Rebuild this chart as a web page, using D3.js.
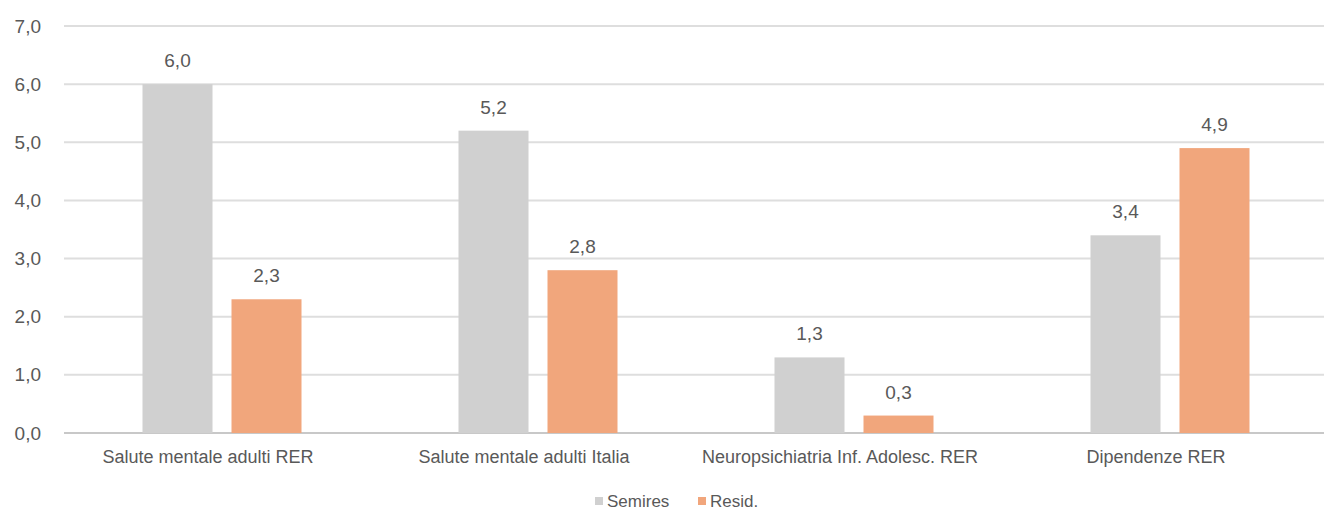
<!DOCTYPE html>
<html>
<head>
<meta charset="utf-8">
<script src="https://cdn.jsdelivr.net/npm/d3@7"></script>
<style>
  html, body { margin: 0; padding: 0; background: #fff; }
  svg { display: block; font-family: "Liberation Sans", Arial, sans-serif; }
</style>
</head>
<body>
<svg id="chart" width="1324" height="513"></svg>
<script>
const categories = ["Salute mentale adulti RER", "Salute mentale adulti Italia", "Neuropsichiatria Inf. Adolesc. RER", "Dipendenze RER"];
const seriesNames = ["Semires", "Resid."];
const semiresValues = [6.0, 5.2, 1.3, 3.4];
const residValues = [2.3, 2.8, 0.3, 4.9];
const yTicks = [0, 1, 2, 3, 4, 5, 6, 7];
const colors = ["#d0d0d0", "#f1a67c"];

const svg = d3.select("#chart");
const plotLeft = 64, plotRight = 1328, plotTop = 26, plotBottom = 433;
const fmt = v => d3.format(".1f")(v).replace(".", ",");

const x0 = d3.scaleBand().domain(categories).range([plotLeft, plotRight]).paddingInner(0).paddingOuter(0);
const x1 = d3.scaleBand().domain(seriesNames).range([0, x0.bandwidth()]).paddingInner(0.2135).paddingOuter(0.882);
const y = d3.scaleLinear().domain([0, 7]).range([plotBottom, plotTop]);

// gridlines
const grid = svg.append("g");
grid.selectAll("line").data(yTicks).join("line")
  .attr("x1", plotLeft).attr("x2", 1324)
  .attr("y1", d => y(d)).attr("y2", d => y(d))
  .attr("stroke", d => d === 0 ? "#c8c8c8" : "#dedede")
  .attr("stroke-width", 2);

// y axis labels
const yAxis = d3.axisLeft(y).tickValues(yTicks).tickFormat(fmt).tickSize(0).tickPadding(0);
const ya = svg.append("g").attr("transform", `translate(41,0)`).call(yAxis);
ya.select(".domain").remove();
ya.selectAll("text").attr("fill", "#595959").attr("font-size", 19).attr("font-family", null);

const data = categories.map((c, i) => ({ cat: c, vals: [semiresValues[i], residValues[i]] }));

const groups = svg.append("g").selectAll("g").data(data).join("g")
  .attr("transform", d => `translate(${x0(d.cat)},0)`);

groups.selectAll("rect").data(d => d.vals.map((v, j) => ({ s: seriesNames[j], v, j })))
  .join("rect")
  .attr("x", d => x1(d.s))
  .attr("width", x1.bandwidth())
  .attr("y", d => y(d.v))
  .attr("height", d => y(0) - y(d.v))
  .attr("fill", d => colors[d.j]);

groups.selectAll("text.val").data(d => d.vals.map((v, j) => ({ s: seriesNames[j], v, j })))
  .join("text")
  .attr("class", "val")
  .attr("x", d => x1(d.s) + x1.bandwidth() / 2)
  .attr("y", d => y(d.v) - 17)
  .attr("text-anchor", "middle")
  .attr("fill", "#595959")
  .attr("font-size", 19)
  .text(d => fmt(d.v));

// category labels
const xAxis = d3.axisBottom(x0).tickSize(0).tickPadding(0);
const xa = svg.append("g").attr("transform", `translate(-14,${plotBottom})`).call(xAxis);
xa.select(".domain").remove();
xa.selectAll("text").attr("fill", "#595959").attr("font-size", 18).attr("font-family", null)
  .attr("dy", null).attr("y", 30);

// legend
const legendItems = [
  { name: seriesNames[0], color: colors[0], x: 595 },
  { name: seriesNames[1], color: colors[1], x: 698 }
];
const lg = svg.append("g");
lg.selectAll("rect").data(legendItems).join("rect")
  .attr("x", d => d.x).attr("y", 497).attr("width", 8).attr("height", 8)
  .attr("fill", d => d.color);
lg.selectAll("text").data(legendItems).join("text")
  .attr("x", d => d.x + 12).attr("y", 507)
  .attr("fill", "#595959").attr("font-size", 17)
  .text(d => d.name);
</script>
</body>
</html>
